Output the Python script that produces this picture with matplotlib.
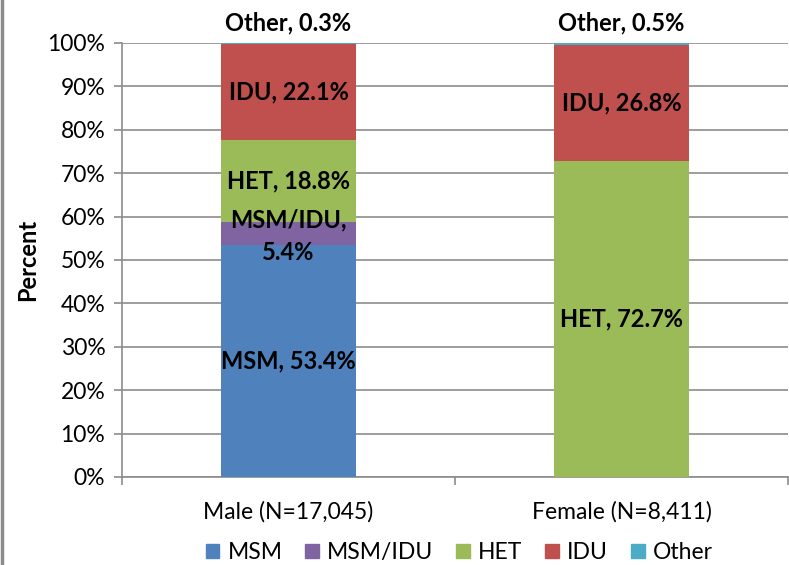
import matplotlib
matplotlib.use("Agg")
import matplotlib.pyplot as plt
from matplotlib.lines import Line2D

plt.rcParams['font.family'] = ['Lato', 'DejaVu Sans']

groups = ['Male (N=17,045)', 'Female (N=8,411)']
categories = ['MSM', 'MSM/IDU', 'HET', 'IDU', 'Other']
colors = ['#4F81BD', '#8064A2', '#9BBB59', '#C0504D', '#4BACC6']

# percent of each group, bottom to top
values = {
    'MSM':     [53.4, 0.0],
    'MSM/IDU': [5.4, 0.0],
    'HET':     [18.8, 72.7],
    'IDU':     [22.1, 26.8],
    'Other':   [0.3, 0.5],
}
labels = {
    'MSM':     ['MSM, 53.4%', ''],
    'MSM/IDU': ['MSM/IDU,\n5.4%', ''],
    'HET':     ['HET, 18.8%', 'HET, 72.7%'],
    'IDU':     ['IDU, 22.1%', 'IDU, 26.8%'],
    'Other':   ['Other, 0.3%', 'Other, 0.5%'],
}
yticks = [0, 10, 20, 30, 40, 50, 60, 70, 80, 90, 100]

fig = plt.figure(figsize=(7.89, 5.65), dpi=100)
ax = fig.add_axes([0.1546, 0.1558, 0.8441, 0.7681])

x = [0, 1]
bottom = [0.0, 0.0]
for cat, col in zip(categories, colors):
    v = values[cat]
    ax.bar(x, v, bottom=bottom, width=0.405, color=col, label=cat, zorder=3)
    for i in range(2):
        if labels[cat][i]:
            if cat == 'Other':
                ypos = 100 + 4.6
            elif cat == 'MSM/IDU':
                ypos = bottom[i] + v[i] / 2 - 0.6
            else:
                ypos = bottom[i] + v[i] / 2
            ax.text(x[i], ypos, labels[cat][i], ha='center', va='center',
                    fontsize=17, fontweight='bold', color='black',
                    linespacing=1.5, zorder=4, clip_on=False)
    bottom = [b + vv for b, vv in zip(bottom, v)]

ax.set_xlim(-0.5, 1.5)
ax.set_ylim(0, 100)
ax.set_yticks(yticks)
ax.set_yticklabels([f'{t}%' for t in yticks], fontsize=16.5)
ax.set_xticks([0, 1])
ax.set_xticklabels(groups, fontsize=16.5)
ax.set_xticks([-0.5, 0.5, 1.5], minor=True)
ax.tick_params(axis='x', which='major', length=0, pad=17)
ax.tick_params(axis='x', which='minor', length=6, color='#8C8C8C', width=1.2)
ax.tick_params(axis='y', length=6, color='#8C8C8C', width=1.2, pad=6)
ax.grid(axis='y', color='#8C8C8C', linewidth=1.2, zorder=0)
for s in ['top', 'right']:
    ax.spines[s].set_visible(False)
for s in ['left', 'bottom']:
    ax.spines[s].set_color('#8C8C8C')
    ax.spines[s].set_linewidth(1.2)
ax.set_ylabel('Percent', fontsize=17, fontweight='bold', labelpad=6)

handles = [plt.Rectangle((0, 0), 1, 1, color=c) for c in colors]
fig.legend(handles, categories, loc='center', bbox_to_anchor=(0.582, 0.022),
           ncol=5, frameon=False, fontsize=16.5, handlelength=0.6,
           handleheight=0.6, handletextpad=0.35, columnspacing=1.0)

# gray frame edge on the left
fig.add_artist(Line2D([0.002, 0.002], [0, 1], color='#8C8C8C', linewidth=2.5,
                      transform=fig.transFigure))

fig.savefig('out.png', dpi=100)
